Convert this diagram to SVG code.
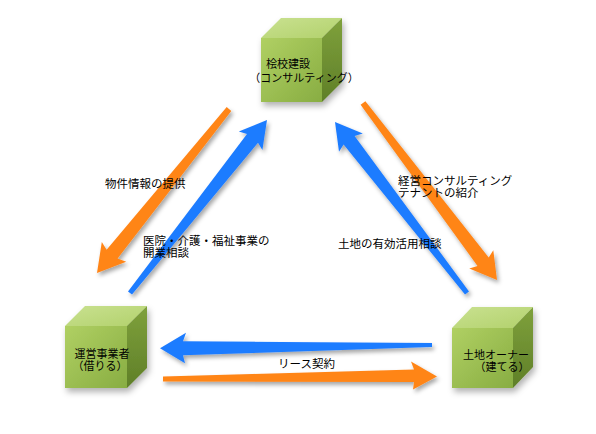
<svg xmlns="http://www.w3.org/2000/svg" width="596" height="434" viewBox="0 0 596 434">
<defs>
<linearGradient id="gFront" x1="0" y1="0" x2="1" y2="1">
<stop offset="0" stop-color="#b0d063"/>
<stop offset="1" stop-color="#88ad42"/>
</linearGradient>
<linearGradient id="gTop" x1="0" y1="0" x2="1" y2="1">
<stop offset="0" stop-color="#c9e190"/>
<stop offset="1" stop-color="#b2d16c"/>
</linearGradient>
<linearGradient id="gSide" x1="0" y1="0" x2="0" y2="1">
<stop offset="0" stop-color="#7fa13c"/>
<stop offset="1" stop-color="#5f7f28"/>
</linearGradient>
<filter id="sh" x="-20%" y="-20%" width="140%" height="140%">
<feDropShadow dx="2" dy="3" stdDeviation="2" flood-color="#000" flood-opacity="0.35"/>
</filter>
<filter id="csh" x="-20%" y="-20%" width="140%" height="140%">
<feDropShadow dx="2" dy="4" stdDeviation="3" flood-color="#000" flood-opacity="0.3"/>
</filter>
</defs>
<style>
.front{fill:url(#gFront)}
.top{fill:url(#gTop)}
.side{fill:url(#gSide)}
.t{font-family:"Noto Sans CJK JP","Liberation Sans",sans-serif;font-size:11.5px;fill:#000}
.ct{font-family:"Noto Sans CJK JP","Liberation Sans",sans-serif;font-size:11px;fill:#000;text-anchor:middle}
.or{fill:#ff8519}
.bl{fill:#1f7cff}
</style>
<rect width="596" height="434" fill="#fff"/>

<g id="connectors">
<g filter="url(#sh)">
<polygon class="or" points="226.7,107.1 106.6,249.8 101.8,242.1 97,273 126.2,261.7 117.6,258.6 231.3,110.9"/>
<polygon class="bl" points="128,291.4 247,134.1 238.8,131.4 267,120 262.4,150 258,142.7 132,294.6"/>
<polygon class="or" points="360.6,104.8 477.5,265.9 469.3,268.4 497,280 493.3,250.2 488.7,257.5 365.4,101.2"/>
<polygon class="bl" points="465,294.5 343.6,144.5 339,151.8 335,122 362.8,133.4 354.6,135.9 469,291.5"/>
<polygon class="bl" points="432,343 183,341.3 186,332.7 160,348.3 185,363.3 183,355.3 432,347"/>
<polygon class="or" points="163,376.5 414,369.5 411,361.5 437,376.5 413,389.5 414,382 163,381.5"/>
</g>
<text class="t" x="105" y="188">物件情報の提供</text>
<text class="t" x="143" y="244.5">医院・介護・福祉事業の</text>
<text class="t" x="143" y="256.5">開業相談</text>
<text class="t" x="398" y="184.5">経営コンサルティング</text>
<text class="t" x="398" y="196.5">テナントの紹介</text>
<text class="t" x="338" y="248">土地の有効活用相談</text>
<text class="t" x="278" y="368">リース契約</text>
</g>

<g id="node-top">
<g filter="url(#csh)">
<polygon class="top" points="261,38 281,18 342,18 322,38"/>
<polygon class="side" points="322,38 342,18 342,82 322,102"/>
<rect class="front" x="261" y="38" width="61" height="64"/>
</g>
<text class="ct" x="288" y="67.5">桧校建設</text>
<text class="ct" x="304" y="81.5">（コンサルティング）</text>
</g>

<g id="node-left">
<g filter="url(#csh)">
<polygon class="top" points="65,326 85,306 147,306 127,326"/>
<polygon class="side" points="127,326 147,306 147,368 127,388"/>
<rect class="front" x="65" y="326" width="62" height="62"/>
</g>
<text class="ct" x="102" y="357.5">運営事業者</text>
<text class="ct" x="100" y="370">（借りる）</text>
</g>

<g id="node-right">
<g filter="url(#csh)">
<polygon class="top" points="452,328 472,307 533,307 513,328"/>
<polygon class="side" points="513,328 533,307 533,367 513,388"/>
<rect class="front" x="452" y="328" width="61" height="60"/>
</g>
<text class="ct" x="496" y="358.5">土地オーナー</text>
<text class="ct" x="502" y="371">（建てる）</text>
</g>
</svg>
